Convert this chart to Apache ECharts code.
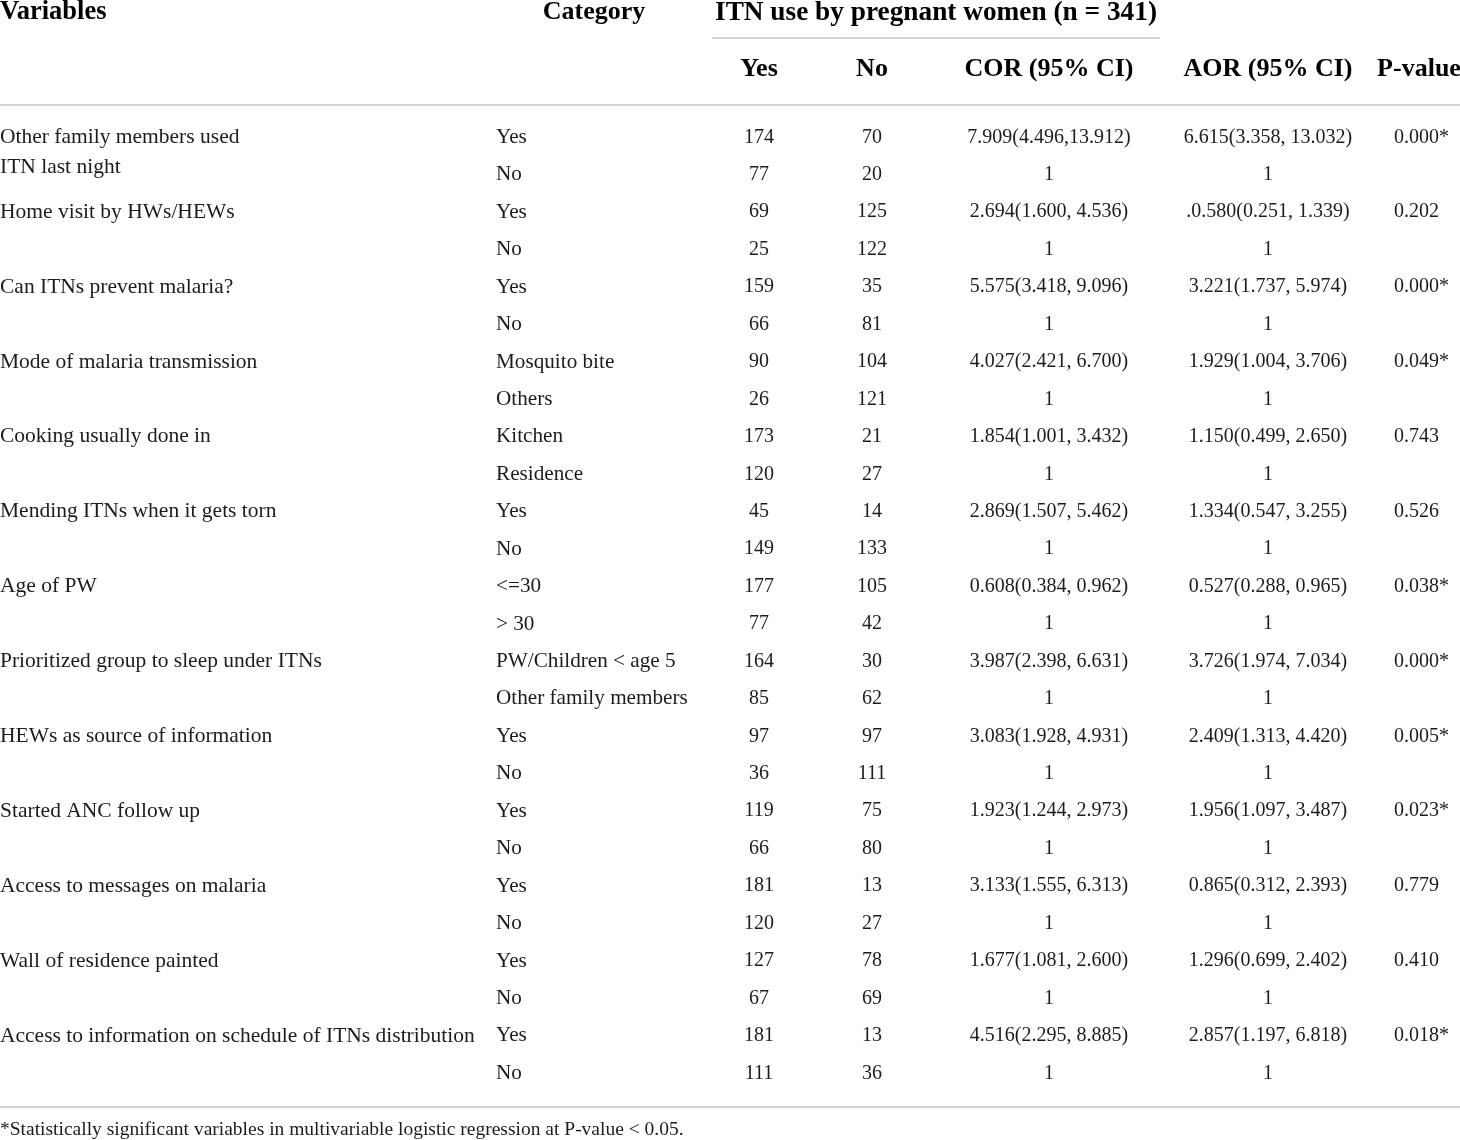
<!DOCTYPE html>
<html>
<head>
<meta charset="utf-8">
<script src="https://cdn.jsdelivr.net/npm/echarts@6/dist/echarts.min.js"></script>
<style>
html,body{margin:0;padding:0;background:#fff;}
#chart{width:1460px;height:1140px;}
</style>
</head>
<body>
<div id="chart"></div>
<script>
// ---------- DATA ----------
const headerTop = ["Variables", "Category", "ITN use by pregnant women (n = 341)"];
const headerSub = ["Yes", "No", "COR (95% CI)", "AOR (95% CI)", "P-value"];
const variables = [
  "Other family members used\nITN last night",
  "Home visit by HWs/HEWs",
  "Can ITNs prevent malaria?",
  "Mode of malaria transmission",
  "Cooking usually done in",
  "Mending ITNs when it gets torn",
  "Age of PW",
  "Prioritized group to sleep under ITNs",
  "HEWs as source of information",
  "Started ANC follow up",
  "Access to messages on malaria",
  "Wall of residence painted",
  "Access to information on schedule of ITNs distribution"
];
const categories = ["Yes","No","Yes","No","Yes","No","Mosquito bite","Others","Kitchen","Residence","Yes","No","<=30","> 30","PW/Children < age 5","Other family members","Yes","No","Yes","No","Yes","No","Yes","No","Yes","No"];
const yesCounts = [174,77,69,25,159,66,90,26,173,120,45,149,177,77,164,85,97,36,119,66,181,120,127,67,181,111];
const noCounts = [70,20,125,122,35,81,104,121,21,27,14,133,105,42,30,62,97,111,75,80,13,27,78,69,13,36];
const corCI = ["7.909(4.496,13.912)","1","2.694(1.600, 4.536)","1","5.575(3.418, 9.096)","1","4.027(2.421, 6.700)","1","1.854(1.001, 3.432)","1","2.869(1.507, 5.462)","1","0.608(0.384, 0.962)","1","3.987(2.398, 6.631)","1","3.083(1.928, 4.931)","1","1.923(1.244, 2.973)","1","3.133(1.555, 6.313)","1","1.677(1.081, 2.600)","1","4.516(2.295, 8.885)","1"];
const aorCI = ["6.615(3.358, 13.032)","1",".0.580(0.251, 1.339)","1","3.221(1.737, 5.974)","1","1.929(1.004, 3.706)","1","1.150(0.499, 2.650)","1","1.334(0.547, 3.255)","1","0.527(0.288, 0.965)","1","3.726(1.974, 7.034)","1","2.409(1.313, 4.420)","1","1.956(1.097, 3.487)","1","0.865(0.312, 2.393)","1","1.296(0.699, 2.402)","1","2.857(1.197, 6.818)","1"];
const pValues = ["0.000*","","0.202","","0.000*","","0.049*","","0.743","","0.526","","0.038*","","0.000*","","0.005*","","0.023*","","0.779","","0.410","","0.018*",""];
const footnote = "*Statistically significant variables in multivariable logistic regression at P-value < 0.05.";

// ---------- LAYOUT (pixels / style only) ----------
const W = 1460, H = 1140;
const ROW0 = 137.3, ROWH = 37.44;
const toRow = py => (py - ROW0) / ROWH;
const FONT = '"Liberation Serif", "Times New Roman", serif';
const TXT = '#1c1c1c';
const HEAD = '#000000';
const RULE = '#c4c4c4';
const colX = { variable: 0, category: 496, yes: 759, no: 872, cor: 1049, aor: 1268, p: 1394 };
const headTopX = [0, 594, 936];
const headTopAlign = ['left', 'center', 'center'];
const headTopSize = [26.5, 26, 27.3];
const headSubX = [759, 872, 1049, 1268, 1419];
const rules = [
  { x0: 712, x1: 1160, py: 38 },
  { x0: 0, x1: W, py: 105 },
  { x0: 0, x1: W, py: 1107 }
];

function textSeries(items, opts) {
  return {
    type: 'scatter',
    symbolSize: 0,
    itemStyle: { color: '#ffffff', opacity: 1 },
    silent: true,
    emphasis: { disabled: true },
    data: items.map(it => ({ value: [it.x, it.y], name: it.t })),
    label: Object.assign({
      show: true,
      position: 'inside',
      formatter: '{b}',
      fontFamily: FONT,
      fontSize: 20,
      color: TXT,
      opacity: 1,
      textBorderWidth: 0,
      align: 'center',
      verticalAlign: 'middle'
    }, opts)
  };
}

const series = [];

// headers
const topHead = textSeries(headerTop.map((t, i) => ({ x: headTopX[i], y: toRow(12.5), t })), {
  fontWeight: 'bold', color: HEAD
});
topHead.data.forEach((d, i) => { d.label = { align: headTopAlign[i], fontSize: headTopSize[i] }; });
series.push(topHead);
series.push(textSeries(headerSub.map((t, i) => ({ x: headSubX[i], y: toRow(69), t })), {
  fontSize: 26, fontWeight: 'bold', color: HEAD
}));

// variables (left aligned, two-line allowed)
series.push(textSeries(variables.map((t, i) => ({ x: colX.variable, y: i * 2, t })), {
  fontSize: 21.5, align: 'left', verticalAlign: 'top', lineHeight: 30, offset: [0, -15]
}));
// categories
series.push(textSeries(categories.map((t, i) => ({ x: colX.category, y: i, t })), {
  fontSize: 21.2, align: 'left'
}));
series.push(textSeries(yesCounts.map((v, i) => ({ x: colX.yes, y: i, t: String(v) })), {}));
series.push(textSeries(noCounts.map((v, i) => ({ x: colX.no, y: i, t: String(v) })), {}));
series.push(textSeries(corCI.map((v, i) => ({ x: colX.cor, y: i, t: v })), {}));
series.push(textSeries(aorCI.map((v, i) => ({ x: colX.aor, y: i, t: v })), {}));
series.push(textSeries(pValues.map((v, i) => ({ x: colX.p, y: i, t: v })).filter(d => d.t !== ''), { align: 'left' }));

// footnote
series.push(textSeries([{ x: 0, y: toRow(1129.5), t: footnote }], { fontSize: 19.5, align: 'left' }));

// rules
rules.forEach(r => {
  series.push({
    type: 'line',
    symbol: 'none',
    silent: true,
    data: [[r.x0, toRow(r.py)], [r.x1, toRow(r.py)]],
    lineStyle: { color: RULE, width: 1.5 }
  });
});

const chart = echarts.init(document.getElementById('chart'), null, { renderer: 'canvas' });
chart.setOption({
  animation: false,
  backgroundColor: '#fff',
  grid: { left: 0, right: 0, top: 0, bottom: 0, containLabel: false },
  xAxis: { type: 'value', min: 0, max: W, show: false },
  yAxis: { type: 'value', min: toRow(0), max: toRow(H), inverse: true, show: false },
  series: series
});
</script>
</body>
</html>
